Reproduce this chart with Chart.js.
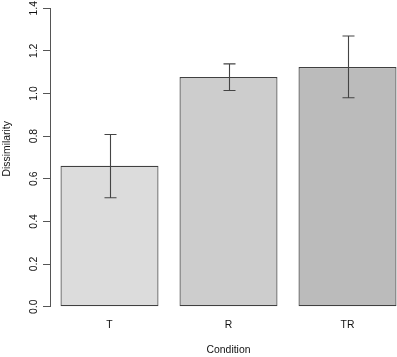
<!DOCTYPE html>
<html lang="en">
<head>
  <meta charset="UTF-8">
  <title>Dissimilarity by condition</title>
  <script src="https://cdn.jsdelivr.net/npm/chart.js"></script>
  <style>
    body { margin: 0; background: #fff; overflow: hidden; }
    #wrap { width: 397px; height: 357px; overflow: hidden; }
  </style>
</head>
<body>
  <div id="wrap">
    <canvas id="chart" width="407" height="357"></canvas>
  </div>

<script>
// data
const conditions = ['T', 'R', 'TR'];
const dissimilarity = [0.661, 1.077, 1.124];
const errLow = [0.511, 1.014, 0.980];
const errHigh = [0.808, 1.139, 1.270];
const yTicks = [0, 0.2, 0.4, 0.6, 0.8, 1.0, 1.2, 1.4];
const barColors = ['#dcdcdc', '#cdcdcd', '#bbbbbb'];

const lineColor = '#555';
const edgeColor = '#404040';
const font = { family: "'Liberation Sans', Arial, sans-serif", size: 10.4 };

// whiskers with caps, drawn on top of the bars
const errorBars = {
  id: 'errorBars',
  afterDatasetsDraw(chart) {
    const ctx = chart.ctx;
    const y = chart.scales.y;
    const meta = chart.getDatasetMeta(0);
    const cap = 6;
    ctx.save();
    ctx.strokeStyle = '#444';
    ctx.lineWidth = 1.1;
    meta.data.forEach((bar, i) => {
      const x = Math.round(bar.x) + 0.5;
      const yHi = y.getPixelForValue(errHigh[i]);
      const yLo = y.getPixelForValue(errLow[i]);
      ctx.beginPath();
      ctx.moveTo(x, yHi); ctx.lineTo(x, yLo);
      ctx.moveTo(x - cap, yHi); ctx.lineTo(x + cap, yHi);
      ctx.moveTo(x - cap, yLo); ctx.lineTo(x + cap, yLo);
      ctx.stroke();
    });
    ctx.restore();
  }
};

new Chart(document.getElementById('chart'), {
  type: 'bar',
  data: {
    labels: conditions,
    datasets: [{
      data: dissimilarity,
      backgroundColor: barColors,
      borderColor: edgeColor,
      borderWidth: 1.2,
      borderSkipped: false,
      categoryPercentage: 1,
      barPercentage: 0.8235
    }]
  },
  options: {
    responsive: false,
    animation: false,
    devicePixelRatio: 1,
    layout: { padding: { top: 8, right: 0, bottom: 0, left: 0 } },
    plugins: { legend: { display: false }, tooltip: { enabled: false } },
    scales: {
      x: {
        offset: true,
        grid: { display: false, drawTicks: false },
        border: { display: false },
        ticks: { color: '#111', font, padding: 12 },
        title: { display: true, text: 'Condition', color: '#111', font, padding: { top: 0, bottom: 1 } },
        afterFit(s) { s.height = 50.3; }
      },
      y: {
        min: 0,
        max: 1.4,
        afterBuildTicks(s) { s.ticks = yTicks.map(v => ({ value: v })); },
        grid: { drawOnChartArea: false, drawTicks: true, tickLength: 7, color: lineColor },
        border: { display: true, color: lineColor, width: 1 },
        ticks: {
          color: '#111', font, padding: 2,
          minRotation: 90, maxRotation: 90, crossAlign: 'center',
          callback: v => v.toFixed(1)
        },
        // leading spaces nudge the centred label up to where R put it
        title: { display: true, text: '      Dissimilarity', color: '#111', font, padding: { top: 1, bottom: 0 } },
        afterFit(s) { s.width = 50; }
      }
    }
  },
  plugins: [errorBars]
});
</script>
</body>
</html>
